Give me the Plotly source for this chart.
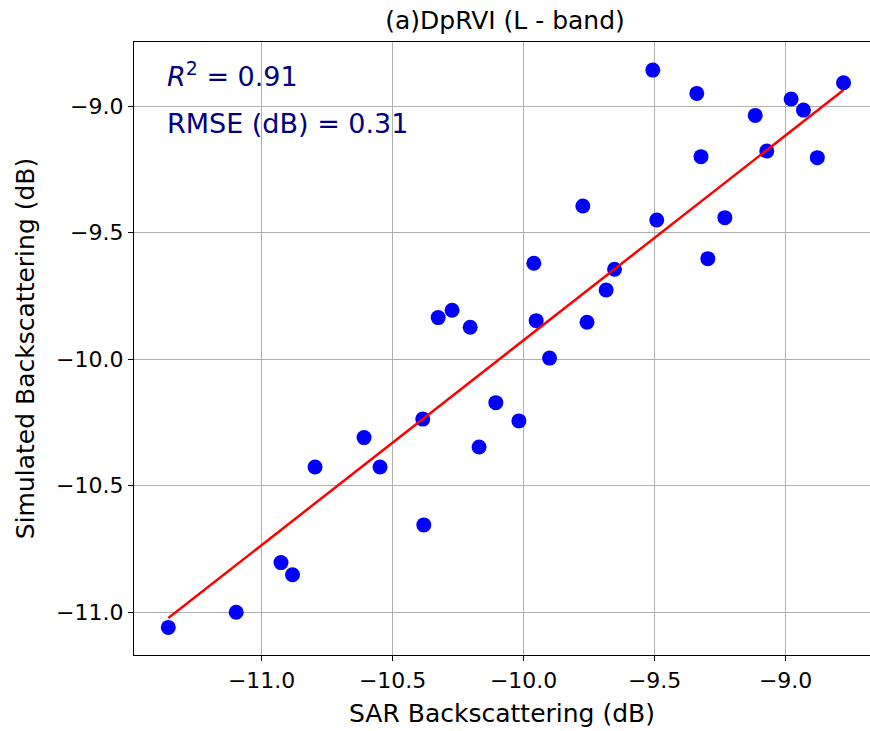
import plotly.graph_objects as go

# Datos (dB)
sar_db = [-11.356, -11.097, -10.926, -10.882, -10.796, -10.609, -10.548, -10.385,
          -10.381, -10.326, -10.273, -10.204, -10.170, -10.106, -10.018, -9.901,
          -9.961, -9.952, -9.774, -9.758, -9.685, -9.653, -9.507, -9.492,
          -9.339, -9.323, -9.297, -9.232, -9.116, -9.072, -8.979, -8.932,
          -8.879, -8.779]
sim_db = [-11.060, -11.000, -10.804, -10.852, -10.426, -10.310, -10.426, -10.237,
          -10.655, -9.836, -9.807, -9.874, -10.347, -10.172, -10.244, -9.996,
          -9.621, -9.848, -9.395, -9.854, -9.727, -9.645, -8.858, -9.450,
          -8.950, -9.200, -9.603, -9.441, -9.037, -9.178, -8.972, -9.016,
          -9.204, -8.908]

# Recta de ajuste (extremos)
ajuste_x = [-11.356, -8.779]
ajuste_y = [-11.023, -8.937]

ticks_val = [-11.0, -10.5, -10.0, -9.5, -9.0]
ticks_txt = ["−11.0", "−10.5", "−10.0", "−9.5", "−9.0"]

titulo = "(a)DpRVI (L - band)"
x_titulo = "SAR Backscattering (dB)"
y_titulo = "Simulated Backscattering (dB)"
r2_texto = "<i>R</i><sup>2</sup> = 0.91"
rmse_texto = "RMSE (dB) = 0.31"

fig = go.Figure()
fig.add_trace(go.Scatter(x=sar_db, y=sim_db, mode="markers",
                         marker=dict(color="#0000ff", size=15, line=dict(width=0)),
                         showlegend=False))
fig.add_trace(go.Scatter(x=ajuste_x, y=ajuste_y, mode="lines",
                         line=dict(color="#ff0000", width=2.5),
                         showlegend=False))

fuente = "DejaVu Sans"
fig.update_layout(
    width=870, height=731,
    margin=dict(l=134, r=0, t=42, b=76),
    plot_bgcolor="white", paper_bgcolor="white",
    font=dict(family=fuente, size=22, color="black"),
    title=dict(text=titulo, x=505 / 870, xref="container", xanchor="center",
               y=1 - 20 / 731, yref="container", yanchor="middle",
               font=dict(family=fuente, size=25, color="black")),
)

fig.update_xaxes(range=[-11.487, -8.678], tickvals=ticks_val, ticktext=ticks_txt,
                 showgrid=True, gridcolor="#b0b0b0", gridwidth=1.2,
                 showline=True, linecolor="black", linewidth=1.3, mirror=True,
                 ticks="outside", ticklen=5, tickwidth=1.3, tickcolor="black",
                 zeroline=False,
                 title=dict(text=x_titulo, font=dict(family=fuente, size=25), standoff=12))
fig.update_yaxes(range=[-11.169, -8.747], tickvals=ticks_val, ticktext=ticks_txt,
                 showgrid=True, gridcolor="#b0b0b0", gridwidth=1.2,
                 showline=True, linecolor="black", linewidth=1.3,
                 ticks="outside", ticklen=5, tickwidth=1.3, tickcolor="black",
                 zeroline=False,
                 title=dict(text=y_titulo, font=dict(family=fuente, size=25), standoff=14))

# Textos de métricas
for texto, ypos in [(r2_texto, 0.947), (rmse_texto, 0.867)]:
    fig.add_annotation(text=texto, xref="paper", yref="paper", x=0.042, y=ypos,
                       xanchor="left", yanchor="middle", showarrow=False,
                       font=dict(family=fuente, size=27, color="#000080"))

# Quitar el margen por defecto del body y la barra de herramientas
fig.write_html("out.html", config={"displayModeBar": False},
               post_script="document.body.style.margin='0px';")
